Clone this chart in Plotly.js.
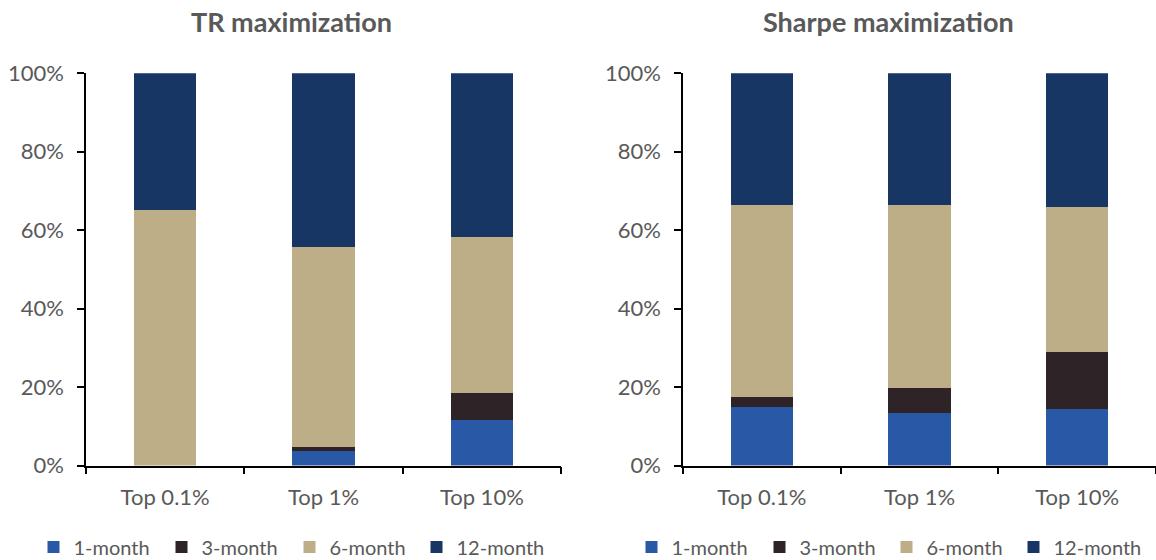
<!DOCTYPE html>
<html>
<head>
<meta charset="utf-8">
<script src="https://cdn.plot.ly/plotly-3.0.1.min.js"></script>
<style>html,body{margin:0;padding:0;background:#fff;}#chart{width:1156px;height:560px;}</style>
</head>
<body>
<div id="chart"></div>
<script>
const categories = ["Top 0.1%", "Top 1%", "Top 10%"];
const seriesNames = ["1-month", "3-month", "6-month", "12-month"];
const seriesColors = ["#2958A6", "#2E2327", "#BDAE88", "#183664"];
// TR maximization (% share)
const tr1m  = [0.0, 3.7, 11.5];
const tr3m  = [0.0, 0.9, 7.0];
const tr6m  = [65.1, 51.1, 39.7];
const tr12m = [34.9, 44.3, 41.8];
// Sharpe maximization (% share)
const sh1m  = [14.9, 13.3, 14.3];
const sh3m  = [2.6, 6.5, 14.6];
const sh6m  = [48.9, 46.7, 36.9];
const sh12m = [33.6, 33.5, 34.2];
const yTicks = [0, 20, 40, 60, 80, 100];
const yTickText = ["0%", "20%", "40%", "60%", "80%", "100%"];

const FONT = "Lato, 'Open Sans', sans-serif";
const GRAY = "#595959";

// legend entry anchor positions (pixels from left)
const legendPosLeft = [33.5, 161.5, 289.5, 416.5];
const legendPosRight = [631.5, 759.5, 886.5, 1013.5];

const trSeries = [tr1m, tr3m, tr6m, tr12m];
const shSeries = [sh1m, sh3m, sh6m, sh12m];
const traces = [];
const legendId = k => (k === 0 ? "legend" : "legend" + (k + 1));
trSeries.forEach((vals, i) => traces.push({
  type: "bar", x: categories, y: vals, name: seriesNames[i],
  marker: {color: seriesColors[i]}, xaxis: "x", yaxis: "y", legend: legendId(i),
  hoverinfo: "x+y+name"
}));
shSeries.forEach((vals, i) => traces.push({
  type: "bar", x: categories, y: vals, name: seriesNames[i],
  marker: {color: seriesColors[i]}, xaxis: "x2", yaxis: "y2", legend: legendId(i + 4),
  hoverinfo: "x+y+name"
}));

const xCommon = {
  type: "category", showline: true, linecolor: "#000", linewidth: 1.5,
  ticks: "outside", tickson: "boundaries", ticklen: 7, tickcolor: "#000", tickwidth: 1.5,
  tickfont: {family: FONT, size: 22, color: GRAY}, ticklabelstandoff: 11,
  showgrid: false, zeroline: false, fixedrange: true, automargin: false
};
const yCommon = {
  range: [0, 100], tickvals: yTicks, ticktext: yTickText,
  showline: true, linecolor: "#000", linewidth: 1.5,
  ticks: "outside", ticklen: 7, tickcolor: "#000", tickwidth: 1.5,
  tickfont: {family: FONT, size: 22, color: GRAY}, ticklabelstandoff: 9,
  showgrid: false, zeroline: false, fixedrange: true, automargin: false
};
const yDom = [1 - 465.5/560, 1 - 73.3/560];

const legendCommon = {
  orientation: "h", xanchor: "left", yanchor: "middle",
  xref: "container", yref: "container", y: 1 - 547/560,
  font: {family: FONT, size: 20, color: GRAY},
  bgcolor: "rgba(0,0,0,0)", itemclick: false, itemdoubleclick: false
};

const layout = {
  width: 1156, height: 560,
  margin: {l: 0, r: 0, t: 0, b: 0, autoexpand: false},
  paper_bgcolor: "#fff", plot_bgcolor: "#fff",
  barmode: "stack", bargap: 0.605,
  showlegend: true,
  xaxis: Object.assign({}, xCommon, {domain: [86/1156, 561/1156], anchor: "y"}),
  yaxis: Object.assign({}, yCommon, {domain: yDom, anchor: "x"}),
  xaxis2: Object.assign({}, xCommon, {domain: [683/1156, 1], anchor: "y2"}),
  yaxis2: Object.assign({}, yCommon, {domain: yDom, anchor: "x2"}),
  annotations: [
    {text: "<b>TR maximization</b>", xref: "paper", yref: "paper", x: 291/1156, y: 1 - 22/560,
     xanchor: "center", yanchor: "middle", showarrow: false, font: {family: FONT, size: 27, color: GRAY}},
    {text: "<b>Sharpe maximization</b>", xref: "paper", yref: "paper", x: 888/1156, y: 1 - 22/560,
     xanchor: "center", yanchor: "middle", showarrow: false, font: {family: FONT, size: 27, color: GRAY}}
  ]
};
legendPosLeft.concat(legendPosRight).forEach((px, k) => {
  layout[legendId(k)] = Object.assign({}, legendCommon, {x: px / 1156});
});

Plotly.newPlot("chart", traces, layout, {displayModeBar: false, staticPlot: false});
</script>
</body>
</html>
